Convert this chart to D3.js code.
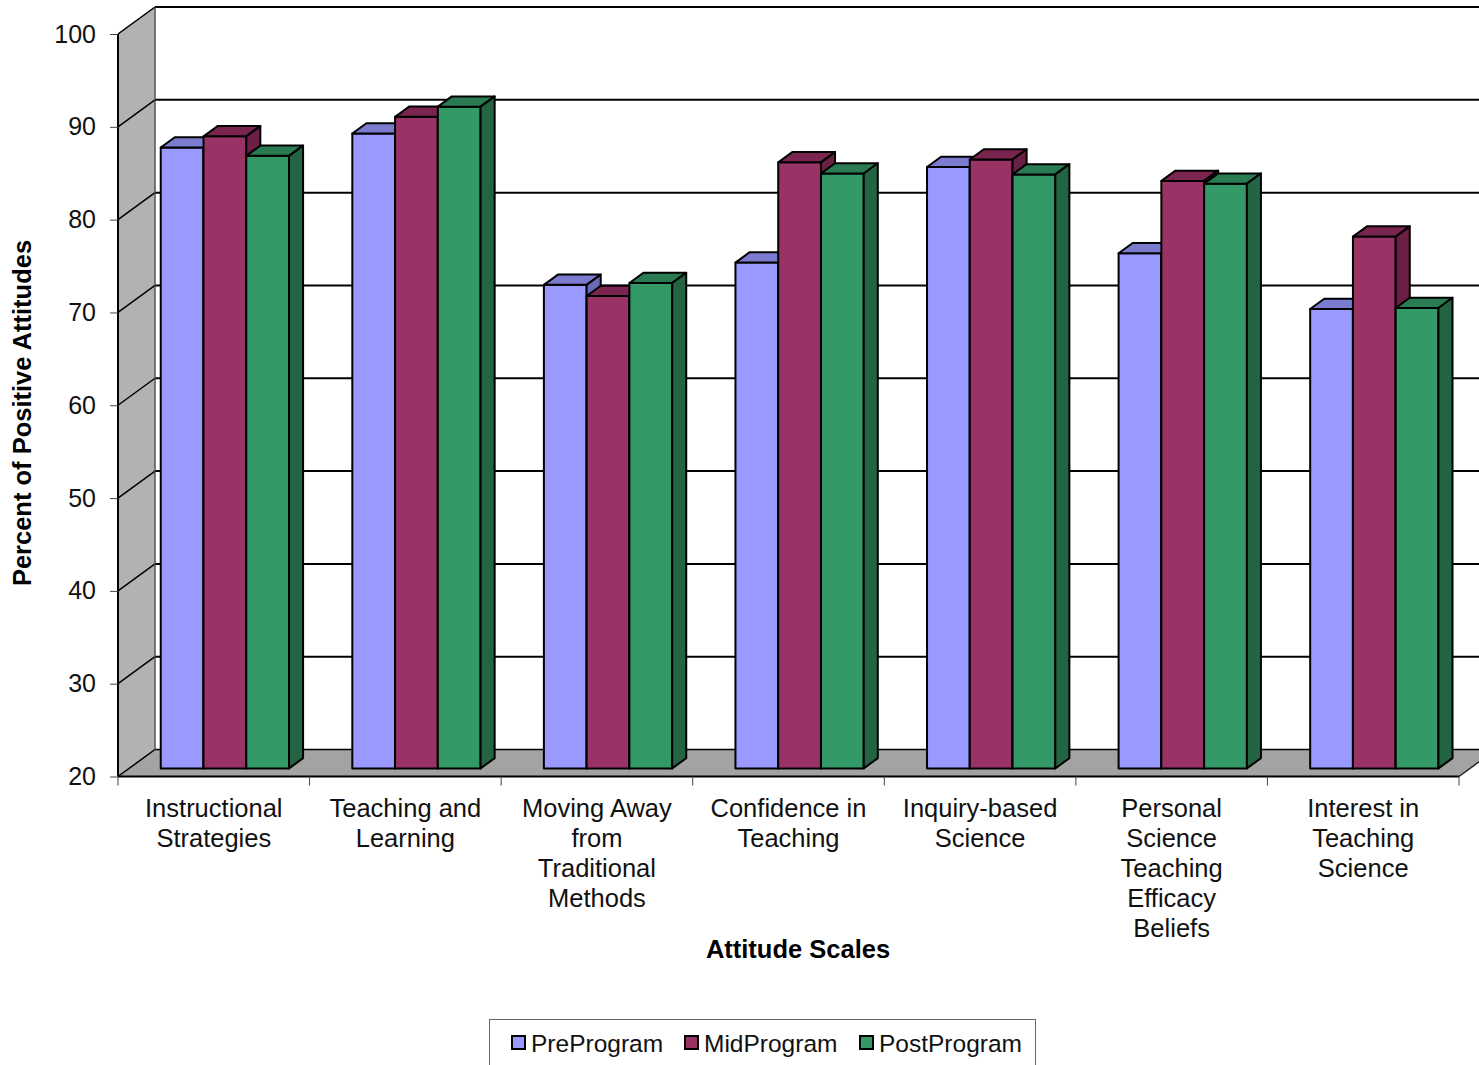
<!DOCTYPE html>
<html>
<head>
<meta charset="utf-8">
<script src="https://cdn.jsdelivr.net/npm/d3@7/dist/d3.min.js"></script>
<style>
  html, body { margin: 0; padding: 0; background: #fff; }
  svg { display: block; font-family: "Liberation Sans", Arial, sans-serif; }
</style>
</head>
<body>
<svg id="chart" width="1479" height="1065"></svg>
<script>
// data
const categories = [
  ["Instructional", "Strategies"],
  ["Teaching and", "Learning"],
  ["Moving Away", "from", "Traditional", "Methods"],
  ["Confidence in", "Teaching"],
  ["Inquiry-based", "Science"],
  ["Personal", "Science", "Teaching", "Efficacy", "Beliefs"],
  ["Interest in", "Teaching", "Science"]
];
const seriesNames = ["PreProgram", "MidProgram", "PostProgram"];
const preProgram  = [86.9, 88.4, 72.1, 74.5, 84.8, 75.5, 69.5];
const midProgram  = [88.1, 90.2, 70.9, 85.3, 85.6, 83.3, 77.3];
const postProgram = [86.0, 91.3, 72.3, 84.1, 84.0, 83.0, 69.6];
const yTicks = [20, 30, 40, 50, 60, 70, 80, 90, 100];

// colours: front, top, side
const palette = {
  PreProgram:  ["#9999ff", "#7b7bd0", "#6b6bb5"],
  MidProgram:  ["#993366", "#7a2550", "#6a1f45"],
  PostProgram: ["#339966", "#2a7a52", "#236444"]
};

const svg = d3.select("#chart");
const keys = categories.map((c, i) => i);

const x = d3.scaleBand().domain(keys).range([118, 1459]);
const x1 = d3.scaleBand().domain(seriesNames).range([0, x.bandwidth()]).paddingOuter(0.74);
const y = d3.scaleLinear().domain([20, 100]).range([776.5, 34]);
// depth axis (0 = front, 1 = back wall)
const dz = d3.scaleLinear().domain([0, 1]).range([0, 37]);
const dzy = d3.scaleLinear().domain([0, 1]).range([0, -27]);
const zFront = 0.3, zBack = 0.68;

const xL = x.range()[0], xR = x.range()[1];
const farRight = 1479 + 40;

// side wall
svg.append("polygon")
  .attr("points", [[xL, y(100)], [xL + dz(1), y(100) + dzy(1)], [xL + dz(1), y(20) + dzy(1)], [xL, y(20)]].join(" "))
  .attr("fill", "#b2b2b2").attr("stroke", "#555").attr("stroke-width", 1);

// floor
svg.append("polygon")
  .attr("points", [[xL, y(20)], [xL + dz(1), y(20) + dzy(1)], [xR + dz(1), y(20) + dzy(1)], [xR, y(20)]].join(" "))
  .attr("fill", "#a3a3a3").attr("stroke", "none");

// gridlines on back wall and side wall
const grid = svg.append("g").attr("stroke", "#000").attr("stroke-width", 2);
yTicks.forEach(t => {
  grid.append("line")
    .attr("x1", xL + dz(1)).attr("x2", farRight)
    .attr("y1", y(t) + dzy(1)).attr("y2", y(t) + dzy(1))
    .attr("stroke-width", t === 20 ? 1.5 : 2);
  grid.append("line")
    .attr("x1", xL).attr("y1", y(t))
    .attr("x2", xL + dz(1)).attr("y2", y(t) + dzy(1))
    .attr("stroke-width", 1.5);
});
// left edge of back wall
svg.append("line")
  .attr("x1", xL + dz(1)).attr("x2", xL + dz(1))
  .attr("y1", y(100) + dzy(1)).attr("y2", y(20) + dzy(1))
  .attr("stroke", "#555").attr("stroke-width", 1);

// floor edge on the right
svg.append("line")
  .attr("x1", xR).attr("y1", y(20))
  .attr("x2", xR + dz(1)).attr("y2", y(20) + dzy(1))
  .attr("stroke", "#222").attr("stroke-width", 1.5);

// bars
const values = { PreProgram: preProgram, MidProgram: midProgram, PostProgram: postProgram };
const bars = svg.append("g").attr("stroke", "#000").attr("stroke-width", 2).attr("stroke-linejoin", "round");
keys.forEach(i => {
  seriesNames.forEach(s => {
    const v = values[s][i];
    const x0 = x(i) + x1(s) + dz(zFront);
    const w = x1.bandwidth();
    const yt = y(v) + dzy(zFront);
    const yb = y(20) + dzy(zFront);
    const ddx = dz(zBack) - dz(zFront);
    const ddy = dzy(zBack) - dzy(zFront);
    const c = palette[s];
    bars.append("polygon")
      .attr("points", [[x0, yt], [x0 + w, yt], [x0 + w, yb], [x0, yb]].join(" "))
      .attr("fill", c[0]);
    bars.append("polygon")
      .attr("points", [[x0, yt], [x0 + ddx, yt + ddy], [x0 + w + ddx, yt + ddy], [x0 + w, yt]].join(" "))
      .attr("fill", c[1]);
    bars.append("polygon")
      .attr("points", [[x0 + w, yt], [x0 + w + ddx, yt + ddy], [x0 + w + ddx, yb + ddy], [x0 + w, yb]].join(" "))
      .attr("fill", c[2]);
  });
});

// front axis lines
svg.append("line")
  .attr("x1", xL).attr("x2", xR).attr("y1", y(20)).attr("y2", y(20))
  .attr("stroke", "#000").attr("stroke-width", 2);
svg.append("line")
  .attr("x1", xL).attr("x2", xL).attr("y1", y(100)).attr("y2", y(20))
  .attr("stroke", "#000").attr("stroke-width", 2);

// y axis ticks and labels
const yAxis = d3.axisLeft(y).tickValues(yTicks).tickSize(8).tickPadding(14).tickFormat(d3.format("d"));
const gy = svg.append("g").attr("transform", `translate(${xL},0)`).call(yAxis);
gy.select(".domain").remove();
gy.selectAll(".tick line").attr("stroke", "#444").attr("stroke-width", 1);
gy.selectAll(".tick text")
  .attr("font-family", "Liberation Sans, Arial, sans-serif")
  .attr("font-size", 25).attr("fill", "#111");

// category ticks
const bounds = keys.map(i => x(i)).concat([xR]);
svg.append("g").selectAll("line").data(bounds).join("line")
  .attr("x1", d => d).attr("x2", d => d)
  .attr("y1", y(20)).attr("y2", y(20) + 9)
  .attr("stroke", "#444").attr("stroke-width", 1);

// category labels
const labels = svg.append("g")
  .attr("font-size", 25.5).attr("fill", "#111").attr("text-anchor", "middle");
keys.forEach(i => {
  const t = labels.append("text")
    .attr("x", x(i) + x.bandwidth() / 2)
    .attr("y", 817);
  categories[i].forEach((line, k) => {
    t.append("tspan").attr("x", x(i) + x.bandwidth() / 2).attr("dy", k === 0 ? 0 : 30).text(line);
  });
});

// axis titles
svg.append("text")
  .attr("x", 798).attr("y", 958)
  .attr("text-anchor", "middle").attr("font-weight", "bold").attr("font-size", 25.5)
  .attr("fill", "#000").text("Attitude Scales");
svg.append("text")
  .attr("transform", "translate(31,413) rotate(-90)")
  .attr("text-anchor", "middle").attr("font-weight", "bold").attr("font-size", 25.5)
  .attr("fill", "#000").text("Percent of Positive Attitudes");

// legend
const legend = svg.append("g");
legend.append("rect")
  .attr("x", 489.5).attr("y", 1019.5).attr("width", 546).attr("height", 60)
  .attr("fill", "#fff").attr("stroke", "#666").attr("stroke-width", 1);
const legendX = [512, 685, 860];
seriesNames.forEach((s, k) => {
  legend.append("rect")
    .attr("x", legendX[k]).attr("y", 1036).attr("width", 13).attr("height", 13)
    .attr("fill", palette[s][0]).attr("stroke", "#000").attr("stroke-width", 2);
  legend.append("text")
    .attr("x", legendX[k] + 19).attr("y", 1052)
    .attr("font-size", 24.5).attr("fill", "#111").text(s);
});
</script>
</body>
</html>
